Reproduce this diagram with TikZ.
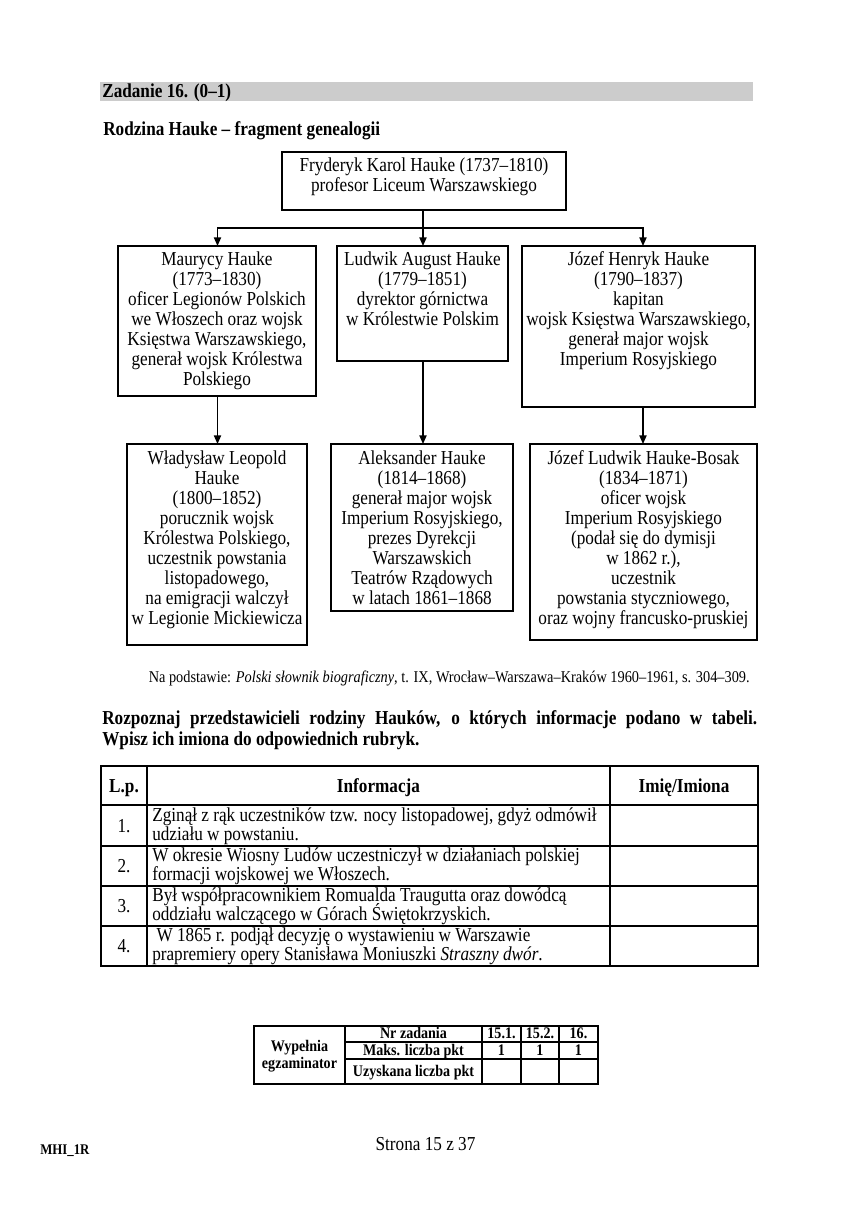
\documentclass[tikz,border=0pt]{standalone}
\usepackage{fontspec}
\setmainfont{Liberation Serif}[FakeStretch=0.87]
\usetikzlibrary{arrows.meta,fit}
\AtBeginDocument{\lineskiplimit=-20pt\relax}
\tikzset{
  box/.style={draw, line width=1pt, inner sep=0pt},
  boxtext/.style={inner sep=0pt, align=center, anchor=north, font=\fontsize{13.8}{13.97}\selectfont},
  arr/.style={line width=0.9pt, -{Triangle[length=6pt,width=5pt]}},
  link/.style={line width=0.9pt},
  plain/.style={inner sep=0pt, anchor=base, font=\fontsize{13.8}{14}\selectfont},
  cell/.style={inner sep=0pt, align=left, anchor=west, font=\fontsize{13.8}{13.4}\selectfont},
  grid/.style={line width=0.8pt},
  small/.style={inner sep=0pt, anchor=base, font=\fontsize{11.3}{12}\selectfont\bfseries},
}
\begin{document}
\begin{tikzpicture}[x=0.6985pt,y=-0.6985pt]
\useasboundingbox (0,0) rectangle (852,1206);
\fill[white] (0,0) rectangle (852,1206);

% header bar
\fill[black!20] (100,82) rectangle (753,101);
\node[plain, anchor=base west, font=\fontsize{13.8}{14}\selectfont\bfseries] (hdr) at (102,97) {Zadanie 16. (0–1)};
\node[plain, anchor=base west, font=\fontsize{13.8}{14}\selectfont\bfseries] (ttl) at (103,135) {Rodzina Hauke – fragment genealogii};

% genealogy boxes
\node[box, fit={(282,152) (566,210)}] (top) {};
\node[boxtext] (toptx) at (424,157) {Fryderyk Karol Hauke (1737–1810)\\profesor Liceum Warszawskiego};

\node[box, fit={(118,246) (316,396)}] (m) {};
\node[boxtext] (mtx) at (217,251) {Maurycy Hauke\\(1773–1830)\\oficer Legionów Polskich\\we Włoszech oraz wojsk\\Księstwa Warszawskiego,\\generał wojsk Królestwa\\Polskiego};

\node[box, fit={(337,246) (508,361)}] (l) {};
\node[boxtext] (ltx) at (422.5,251) {Ludwik August Hauke\\(1779–1851)\\dyrektor górnictwa\\w Królestwie Polskim};

\node[box, fit={(522,246) (755,407)}] (j) {};
\node[boxtext] (jtx) at (638.5,251) {Józef Henryk Hauke\\(1790–1837)\\kapitan\\wojsk Księstwa Warszawskiego,\\generał major wojsk\\Imperium Rosyjskiego};

\node[box, fit={(127,444) (307,645)}] (w) {};
\node[boxtext] (wtx) at (217,450) {Władysław Leopold\\Hauke\\(1800–1852)\\porucznik wojsk\\Królestwa Polskiego,\\uczestnik powstania\\listopadowego,\\na emigracji walczył\\w Legionie Mickiewicza};

\node[box, fit={(331,444) (513,611)}] (a) {};
\node[boxtext] (atx) at (422,450) {Aleksander Hauke\\(1814–1868)\\generał major wojsk\\Imperium Rosyjskiego,\\prezes Dyrekcji\\Warszawskich\\Teatrów Rządowych\\w latach 1861–1868};

\node[box, fit={(530,444) (757,640)}] (jl) {};
\node[boxtext] (jltx) at (643.5,450) {Józef Ludwik Hauke-Bosak\\(1834–1871)\\oficer wojsk\\Imperium Rosyjskiego\\(podał się do dymisji\\w 1862 r.),\\uczestnik\\powstania styczniowego,\\oraz wojny francusko-pruskiej};

% connectors
\coordinate (hl) at (423,228);
\coordinate (mt) at (217.5,246);
\coordinate (lt) at (423,246);
\coordinate (jt) at (643,246);
\coordinate (mb) at (217.5,396);
\coordinate (lb) at (423,361);
\coordinate (jb) at (643,407);
\coordinate (wt) at (217.5,444);
\coordinate (at) at (423,444);
\coordinate (jlt) at (643,444);
\draw[link] (top.south -| hl) -- (hl);
\draw[arr] (hl) -| (mt);
\draw[arr] (hl) -- (lt);
\draw[arr] (hl) -| (jt);
\draw[arr] (mb) -- (wt);
\draw[arr] (lb) -- (at);
\draw[arr] (jb) -- (jlt);

% source
\node[plain, anchor=base east, font=\fontsize{11.5}{12}\selectfont] (src) at (750,682) {Na podstawie: \textit{Polski słownik biograficzny}, t. IX, Wrocław–Warszawa–Kraków 1960–1961, s. 304–309.};

% instruction
\node[plain, anchor=base west, font=\fontsize{13.8}{14}\selectfont\bfseries] (ins1) at (102,724) {\makebox[457.5pt][s]{Rozpoznaj przedstawicieli rodziny Hauków, o których informacje podano w tabeli.}};
\node[plain, anchor=base west, font=\fontsize{13.8}{14}\selectfont\bfseries] (ins2) at (102,745) {Wpisz ich imiona do odpowiednich rubryk.};

% main table
\draw[grid] (101,766) rectangle (758,966);
\draw[grid] (147,766) -- (147,966);
\draw[grid] (610,766) -- (610,966);
\foreach \yy in {805,846,886,926} \draw[grid] (101,\yy) -- (758,\yy);
\node[plain, font=\fontsize{13.8}{14}\selectfont\bfseries] (h1) at (124,792) {L.p.};
\node[plain, font=\fontsize{13.8}{14}\selectfont\bfseries] (h2) at (378.5,792) {Informacja};
\node[plain, font=\fontsize{13.8}{14}\selectfont\bfseries] (h3) at (684,792) {Imię/Imiona};

\node[inner sep=0pt, font=\fontsize{13.8}{14}\selectfont] (n1) at (124,826) {1.};
\node[inner sep=0pt, font=\fontsize{13.8}{14}\selectfont] (n2) at (124,866) {2.};
\node[inner sep=0pt, font=\fontsize{13.8}{14}\selectfont] (n3) at (124,906) {3.};
\node[inner sep=0pt, font=\fontsize{13.8}{14}\selectfont] (n4) at (124,946) {4.};

\node[cell] (c1) at (152,826) {Zginął z rąk uczestników tzw. nocy listopadowej, gdyż odmówił\\udziału w powstaniu.};
\node[cell] (c2) at (152,866) {W okresie Wiosny Ludów uczestniczył w działaniach polskiej\\formacji wojskowej we Włoszech.};
\node[cell] (c3) at (152,906) {Był współpracownikiem Romualda Traugutta oraz dowódcą\\oddziału walczącego w Górach Świętokrzyskich.};
\node[cell] (c4) at (152,946) {\hspace{3pt}W 1865 r. podjął decyzję o wystawieniu w Warszawie\\prapremiery opery Stanisława Moniuszki \textit{Straszny dwór}.};

% examiner table
\draw[grid] (254,1026) rectangle (598,1084);
\draw[grid] (345,1026) -- (345,1084);
\foreach \xx in {482,521,559} \draw[grid] (\xx,1026) -- (\xx,1084);
\draw[grid] (345,1042) -- (598,1042);
\draw[grid] (345,1059) -- (598,1059);
\node[small] (e1) at (299.5,1051) {Wypełnia};
\node[small] (e2) at (299.5,1068) {egzaminator};
\node[small] (e3) at (413.5,1038.5) {Nr zadania};
\node[small] (e4) at (413.5,1055.5) {Maks. liczba pkt};
\node[small] (e5) at (413.5,1076.5) {Uzyskana liczba pkt};
\node[small] (e6) at (501.5,1038.5) {15.1.};
\node[small] (e7) at (540,1038.5) {15.2.};
\node[small] (e8) at (578.5,1038.5) {16.};
\node[small] (e9) at (501.5,1055.5) {1};
\node[small] (e10) at (540,1055.5) {1};
\node[small] (e11) at (578.5,1055.5) {1};

% footer
\node[plain, anchor=base west, font=\fontsize{10.3}{11}\selectfont\bfseries] (ft1) at (40,1154) {MHI\_1R};
\node[plain, anchor=base, font=\fontsize{13.8}{14}\selectfont] (ft2) at (425.5,1150) {Strona 15 z 37};
\end{tikzpicture}
\end{document}
